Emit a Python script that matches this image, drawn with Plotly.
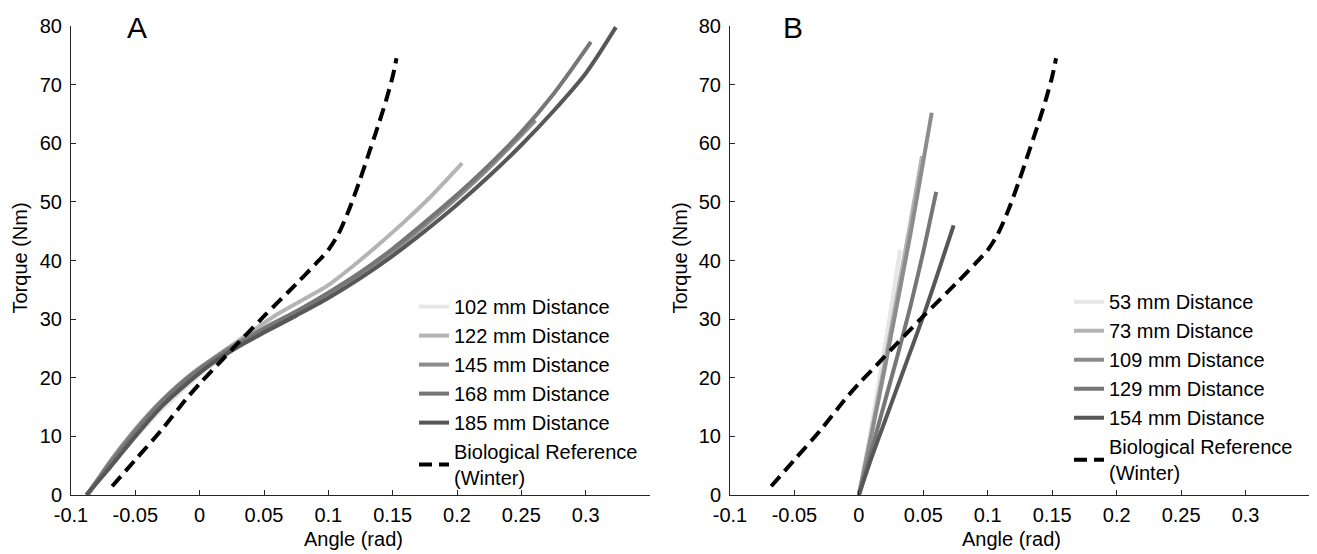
import plotly.graph_objects as go

# ---------------- data ----------------
# Panel A
a102_x = [-0.088, -0.075, -0.06, -0.045, -0.03, -0.015, 0.0, 0.015, 0.03, 0.038]
a102_y = [0.0, 3.5, 7.5, 11.0, 14.5, 17.5, 20.5, 23.0, 25.5, 26.8]

a122_x = [-0.087, -0.07, -0.05, -0.03, -0.01, 0.01, 0.03, 0.06, 0.1, 0.12, 0.14, 0.16,
          0.18, 0.204]
a122_y = [0.0, 5.2, 10.8, 15.9, 19.8, 23.2, 26.3, 30.8, 35.8, 39.2, 42.9, 46.8,
          51.0, 56.6]

a145_x = [-0.087, -0.07, -0.05, -0.03, -0.01, 0.01, 0.03, 0.05, 0.075, 0.1, 0.125, 0.15,
          0.175, 0.2, 0.225, 0.25, 0.261]
a145_y = [0.0, 5.6, 11.2, 16.0, 20.0, 23.2, 26.0, 28.5, 31.3, 34.3, 37.7, 41.6,
          46.0, 50.7, 55.8, 61.4, 63.9]

a168_x = [-0.088, -0.07, -0.05, -0.03, -0.01, 0.01, 0.03, 0.05, 0.075, 0.1, 0.125, 0.15,
          0.175, 0.2, 0.225, 0.25, 0.275, 0.3, 0.304]
a168_y = [0.0, 5.3, 10.8, 15.8, 19.8, 23.0, 25.8, 28.3, 31.3, 34.5, 38.0, 42.0,
          46.5, 51.2, 56.3, 61.9, 68.4, 76.0, 77.3]

a185_x = [-0.088, -0.07, -0.05, -0.03, -0.01, 0.01, 0.03, 0.05, 0.075, 0.1, 0.125, 0.15,
          0.175, 0.2, 0.225, 0.25, 0.275, 0.3, 0.3235]
a185_y = [0.0, 4.6, 10.0, 15.0, 19.0, 22.5, 25.3, 27.7, 30.6, 33.6, 37.0, 40.8,
          45.0, 49.5, 54.4, 59.7, 65.5, 71.9, 79.8]

# Panel B
b53_x = [0.0, 0.008, 0.016, 0.024, 0.032]
b53_y = [0.0, 9.5, 20.0, 30.5, 41.8]

b73_x = [0.0, 0.01, 0.02, 0.03, 0.04, 0.049]
b73_y = [0.0, 11.0, 22.5, 34.5, 46.5, 57.8]

b109_x = [0.0, 0.01, 0.02, 0.03, 0.04, 0.05, 0.0565]
b109_y = [0.0, 10.5, 21.5, 33.0, 44.5, 57.0, 65.2]

b129_x = [0.0, 0.01, 0.02, 0.03, 0.04, 0.05, 0.06]
b129_y = [0.0, 7.8, 15.8, 23.8, 32.2, 41.5, 51.7]

b154_x = [0.0, 0.01, 0.02, 0.03, 0.04, 0.05, 0.06, 0.0735]
b154_y = [0.0, 6.5, 12.5, 18.5, 24.5, 30.5, 37.0, 46.0]

# Biological reference (Winter), same in both panels
bio_x = [-0.068, -0.05, -0.03, -0.01, 0.0, 0.01, 0.025, 0.05, 0.075, 0.09, 0.1, 0.108,
         0.116, 0.124, 0.132, 0.139, 0.145, 0.15, 0.153]
bio_y = [1.5, 6.0, 11.0, 16.5, 19.0, 21.3, 24.8, 30.5, 36.0, 39.4, 41.8, 44.6,
         48.6, 53.4, 58.6, 63.2, 67.4, 71.4, 74.5]

a_names = ["102 mm Distance", "122 mm Distance", "145 mm Distance",
           "168 mm Distance", "185 mm Distance"]
b_names = ["53 mm Distance", "73 mm Distance", "109 mm Distance",
           "129 mm Distance", "154 mm Distance"]
bio_name = "Biological Reference<br>(Winter)"

x_tickvals = [-0.1, -0.05, 0, 0.05, 0.1, 0.15, 0.2, 0.25, 0.3]
x_ticktext = ["-0.1", "-0.05", "0", "0.05", "0.1", "0.15", "0.2", "0.25", "0.3"]
y_tickvals = [0, 10, 20, 30, 40, 50, 60, 70, 80]

grays = ["#e6e6e6", "#b4b4b4", "#8c8c8c", "#767676", "#575757"]

FONT = "Arial, Liberation Sans, sans-serif"

fig = go.Figure()

a_series = [(a102_x, a102_y), (a122_x, a122_y), (a145_x, a145_y),
            (a168_x, a168_y), (a185_x, a185_y)]
for (xs, ys), nm, col in zip(a_series, a_names, grays):
    fig.add_trace(go.Scatter(x=xs, y=ys, mode="lines", name=nm,
                             line=dict(color=col, width=4, shape="spline", smoothing=0.8),
                             xaxis="x", yaxis="y", legend="legend"))
fig.add_trace(go.Scatter(x=bio_x, y=bio_y, mode="lines", name=bio_name,
                         line=dict(color="black", width=4, dash="13px,7px",
                                   shape="spline", smoothing=0.8),
                         xaxis="x", yaxis="y", legend="legend"))

b_series = [(b53_x, b53_y), (b73_x, b73_y), (b109_x, b109_y),
            (b129_x, b129_y), (b154_x, b154_y)]
for (xs, ys), nm, col in zip(b_series, b_names, grays):
    fig.add_trace(go.Scatter(x=xs, y=ys, mode="lines", name=nm,
                             line=dict(color=col, width=4, shape="spline", smoothing=0.6),
                             xaxis="x2", yaxis="y2", legend="legend2"))
fig.add_trace(go.Scatter(x=bio_x, y=bio_y, mode="lines", name=bio_name,
                         line=dict(color="black", width=4, dash="13px,7px",
                                   shape="spline", smoothing=0.8),
                         xaxis="x2", yaxis="y2", legend="legend2"))

axis_common = dict(showline=True, linecolor="#262626", linewidth=1,
                   ticks="inside", ticklen=5, tickcolor="#262626", tickwidth=1,
                   showgrid=False, zeroline=False, mirror=False,
                   tickfont=dict(family=FONT, size=20, color="black"))

xa = dict(axis_common, range=[-0.1, 0.35], tickmode="array",
          tickvals=x_tickvals, ticktext=x_ticktext, ticklabelstandoff=2)
ya = dict(axis_common, range=[0, 80], tickmode="array", tickvals=y_tickvals,
          ticklabelstandoff=4)

# the page body adds an 8px offset; work in page pixels and convert
OFF = 8
W, H = 1317 - OFF, 554 - OFF
L, R, T, B = 71 - OFF, 7, 19 - OFF, 59
pw = W - L - R
ph = H - T - B


def px(xp):
    return (xp - OFF - L) / pw


def py(yp):
    return (H - B - (yp - OFF)) / ph


fig.update_layout(
    width=W, height=H,
    margin=dict(l=L, r=R, t=T, b=B),
    paper_bgcolor="white", plot_bgcolor="white",
    xaxis=dict(xa, domain=[0, px(650)], anchor="y"),
    yaxis=dict(ya, domain=[0, 1], anchor="x"),
    xaxis2=dict(xa, domain=[px(730), 1], anchor="y2"),
    yaxis2=dict(ya, domain=[0, 1], anchor="x2"),
    legend=dict(x=px(414), y=py(284), xanchor="left", yanchor="top",
                bgcolor="rgba(0,0,0,0)", tracegroupgap=0,
                font=dict(family=FONT, size=20, color="black")),
    legend2=dict(x=px(1069), y=py(279), xanchor="left", yanchor="top",
                 bgcolor="rgba(0,0,0,0)", tracegroupgap=0,
                 font=dict(family=FONT, size=20, color="black")),
    showlegend=True,
)

ann_font = dict(family=FONT, size=20, color="black")
annotations = [
    dict(text="A", x=px(137), y=py(21), font=dict(family=FONT, size=30, color="black")),
    dict(text="B", x=px(793), y=py(21), font=dict(family=FONT, size=30, color="black")),
    dict(text="Torque (Nm)", x=px(20), y=py(255), textangle=-90, font=ann_font),
    dict(text="Torque (Nm)", x=px(680), y=py(255), textangle=-90, font=ann_font),
    dict(text="Angle (rad)", x=px(353), y=py(540), font=ann_font),
    dict(text="Angle (rad)", x=px(1011), y=py(540), font=ann_font),
]
for a in annotations:
    a.update(xref="paper", yref="paper", showarrow=False, xanchor="center", yanchor="middle")
fig.update_layout(annotations=annotations)

fig.write_html("out.html")
